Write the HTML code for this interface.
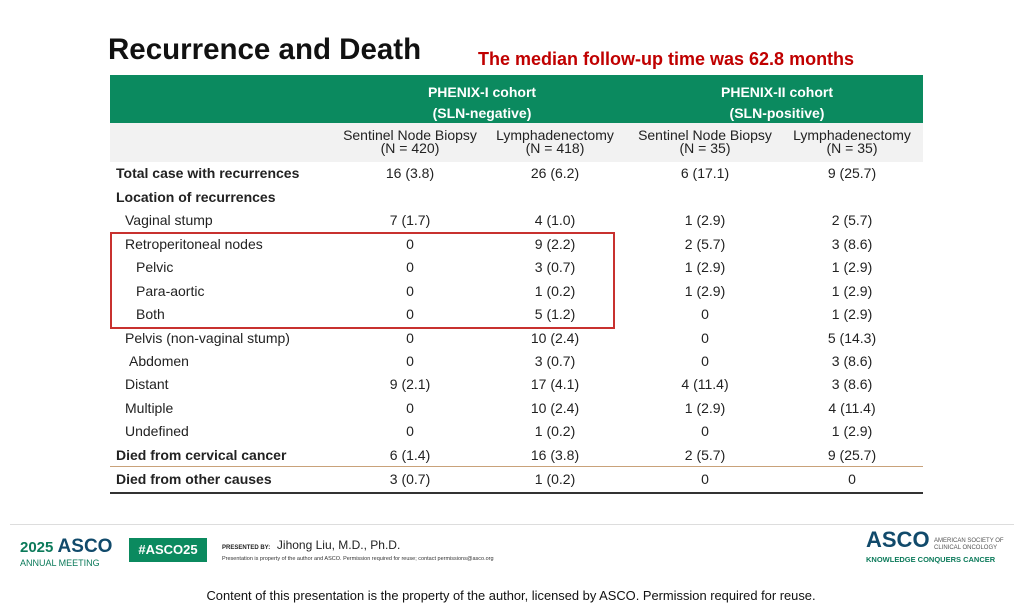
<!DOCTYPE html>
<html><head><meta charset="utf-8"><style>
body{margin:0;width:1024px;height:613px;background:#fff;position:relative;overflow:hidden;font-family:"Liberation Sans",sans-serif;color:#222}
.a{position:absolute;white-space:nowrap}
.c{position:absolute;transform:translateX(-50%);text-align:center;white-space:nowrap;font-size:14px;line-height:13px}
.l{position:absolute;font-size:14px;line-height:13px;white-space:nowrap}
.b{font-weight:bold}
</style></head><body>
<div class="a b" style="left:108px;top:33px;font-size:29.5px;color:#111">Recurrence and Death</div>
<div class="a b" style="left:478px;top:49px;font-size:18px;color:#c00000">The median follow-up time was 62.8 months</div>
<div class="a" style="left:110px;top:75px;width:813px;height:48px;background:#0b8a5f"></div>
<div class="a" style="left:110px;top:123px;width:813px;height:39px;background:#f2f2f2"></div>
<div class="c b" style="left:482px;top:82px;color:#fff;line-height:21px">PHENIX-I cohort<br>(SLN-negative)</div>
<div class="c b" style="left:777px;top:82px;color:#fff;line-height:21px">PHENIX-II cohort<br>(SLN-positive)</div>
<div class="c" style="left:410px;top:129px">Sentinel Node Biopsy<br>(N = 420)</div>
<div class="c" style="left:555px;top:129px">Lymphadenectomy<br>(N = 418)</div>
<div class="c" style="left:705px;top:129px">Sentinel Node Biopsy<br>(N = 35)</div>
<div class="c" style="left:852px;top:129px">Lymphadenectomy<br>(N = 35)</div>
<div id="rows"></div>
<div class="a" style="left:110px;top:466px;width:813px;height:1px;background:#c9a27a"></div>
<div class="a" style="left:110px;top:492px;width:813px;height:2px;background:#333"></div>
<div class="a" style="left:110px;top:232px;width:501px;height:93px;border:2px solid #c8312f"></div>
<div class="a" style="left:10px;top:524px;width:1004px;height:1px;background:#ddd"></div>
<div class="a" style="left:20px;top:540px;font-size:15px;color:#0b7a5a;line-height:14px"><span style="font-weight:bold">2025 </span><span style="font-weight:bold;font-size:19px;color:#114a6b">ASCO</span><br><span style="font-size:9px">ANNUAL MEETING</span></div>
<div class="a b" style="left:129px;top:538px;width:78px;height:24px;background:#0b8a5f;color:#fff;font-size:13px;line-height:24px;text-align:center">#ASCO25</div>
<div class="a" style="left:222px;top:538px;font-size:12px"><span style="font-size:6px;font-weight:bold">PRESENTED BY:</span> &nbsp;Jihong Liu, M.D., Ph.D.</div>
<div class="a" style="left:222px;top:556px;font-size:5.5px;color:#333">Presentation is property of the author and ASCO. Permission required for reuse; contact permissions@asco.org</div>
<div class="a" style="left:866px;top:534px;line-height:12px"><span style="font-weight:bold;font-size:22px;color:#114a6b">ASCO</span> <span style="font-size:6px;color:#555;display:inline-block;vertical-align:top;line-height:7px;margin-top:4px">AMERICAN SOCIETY OF<br>CLINICAL ONCOLOGY</span><br><span style="font-size:7.5px;color:#0b7a5a;font-weight:bold">KNOWLEDGE CONQUERS CANCER</span></div>
<div class="a" style="left:0;width:1022px;text-align:center;top:588px;font-size:12.9px;color:#111">Content of this presentation is the property of the author, licensed by ASCO. Permission required for reuse.</div>
<script>
const labels=["Total case with recurrences","Location of recurrences","Vaginal stump","Retroperitoneal nodes","Pelvic","Para-aortic","Both","Pelvis (non-vaginal stump)","Abdomen","Distant","Multiple","Undefined","Died from cervical cancer","Died from other causes"];
const indents=[116,116,125,125,136,136,136,125,129,125,125,125,116,116];
const bold=[1,1,0,0,0,0,0,0,0,0,0,0,1,1];
const col1=["16 (3.8)","","7 (1.7)","0","0","0","0","0","0","9 (2.1)","0","0","6 (1.4)","3 (0.7)"];
const col2=["26 (6.2)","","4 (1.0)","9 (2.2)","3 (0.7)","1 (0.2)","5 (1.2)","10 (2.4)","3 (0.7)","17 (4.1)","10 (2.4)","1 (0.2)","16 (3.8)","1 (0.2)"];
const col3=["6 (17.1)","","1 (2.9)","2 (5.7)","1 (2.9)","1 (2.9)","0","0","0","4 (11.4)","1 (2.9)","0","2 (5.7)","0"];
const col4=["9 (25.7)","","2 (5.7)","3 (8.6)","1 (2.9)","1 (2.9)","1 (2.9)","5 (14.3)","3 (8.6)","3 (8.6)","4 (11.4)","1 (2.9)","9 (25.7)","0"];
const cols=[col1,col2,col3,col4];const cx=[410,555,705,852];
const yTops=[167,191,214,238,261,285,308,332,355,378,402,425,449,473];
const root=document.getElementById('rows');
labels.forEach((t,i)=>{
 const d=document.createElement('div');d.className='l'+(bold[i]?' b':'');
 d.style.left=indents[i]+'px';d.style.top=yTops[i]+'px';d.textContent=t;
 
 
 root.appendChild(d);
 cols.forEach((c,j)=>{
  if(!c[i])return;
  const e=document.createElement('div');e.className='c';
  e.style.left=cx[j]+'px';e.style.top=yTops[i]+'px';e.textContent=c[i];
  
  
  root.appendChild(e);
 });
});
</script>
</body></html>
